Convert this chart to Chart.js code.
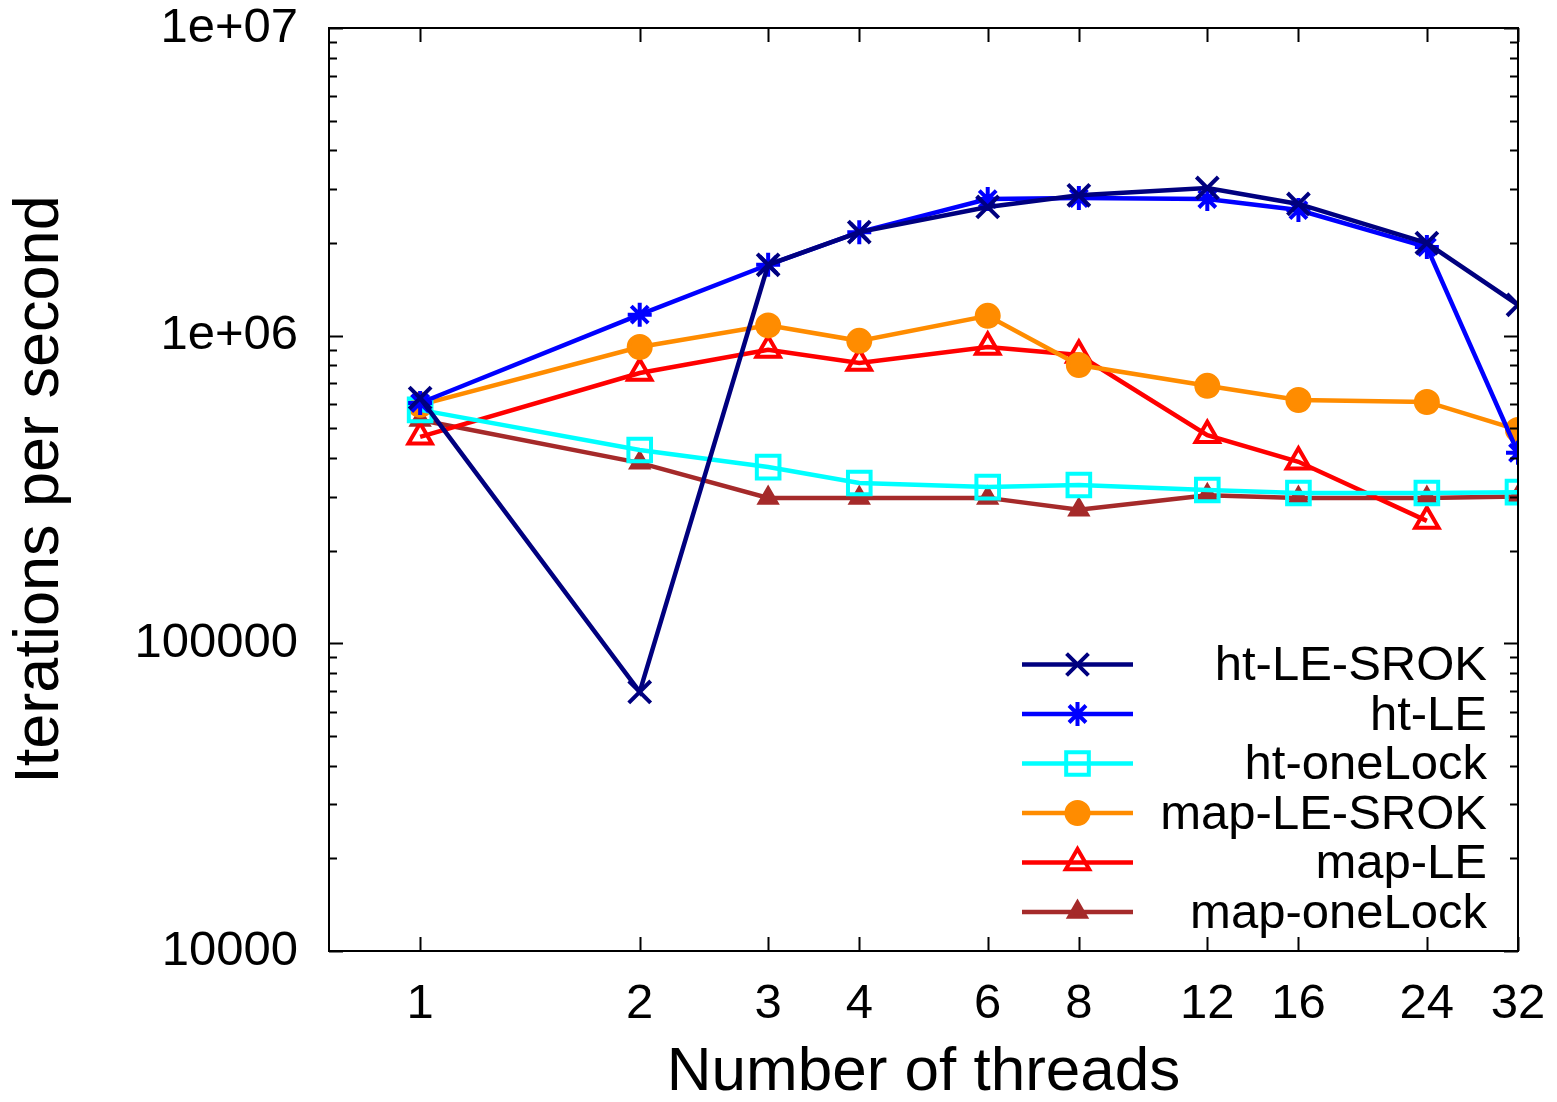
<!DOCTYPE html>
<html><head><meta charset="utf-8">
<script src="https://cdn.jsdelivr.net/npm/chart.js@4"></script>
<style>html,body{margin:0;padding:0;background:#fff}#wrap{width:1557px;height:1102px;position:relative}</style>
</head><body><div id="wrap"><canvas id="c"></canvas></div>
<script>
const threads = [1, 2, 3, 4, 6, 8, 12, 16, 24, 32];
const htLESROK = [627000, 69500, 1700000, 2170000, 2620000, 2860000, 3020000, 2680000, 2000000, 1260000];
const htLE = [604000, 1170000, 1700000, 2170000, 2780000, 2800000, 2780000, 2560000, 1940000, 416000];
const htOneLock = [574000, 425000, 374000, 332000, 322000, 327000, 315000, 308000, 308000, 310000];
const mapLESROK = [596000, 919000, 1080000, 962000, 1160000, 803000, 687000, 618000, 609000, 494000];
const mapLE = [469000, 756000, 899000, 815000, 919000, 865000, 475000, 389000, 250000, null];
const mapOneLock = [532000, 386000, 297000, 297000, 297000, 272000, 303000, 297000, 297000, 300000];
const seriesNames = ['ht-LE-SROK', 'ht-LE', 'ht-oneLock', 'map-LE-SROK', 'map-LE', 'map-oneLock'];
const yTickValues = [10000, 100000, 1000000, 10000000];
const yTickLabels = ['10000', '100000', '1e+06', '1e+07'];
const xTitle = 'Number of threads';
const yTitle = 'Iterations per second';

const FONT = "'Liberation Sans', Arial, Helvetica, sans-serif";

const styles = [
  {color:'#00007f', pointStyle:'crossRot', radius:15.5, fill:'transparent'},
  {color:'#0000ff', pointStyle:'star', radius:12, fill:'transparent'},
  {color:'#00ffff', pointStyle:'rect', radius:16, fill:'transparent'},
  {color:'#ff8c00', pointStyle:'circle', radius:11, fill:'#ff8c00'},
  {color:'#ff0000', pointStyle:'triangle', radius:13.5, fill:'transparent'},
  {color:'#a52a2a', pointStyle:'triangle', radius:9.5, fill:'#a52a2a'}
];
const seriesValues = [htLESROK, htLE, htOneLock, mapLESROK, mapLE, mapOneLock];

const datasets = seriesNames.map((name, i) => ({
  label: name,
  data: threads.map((t, j) => ({x: t, y: seriesValues[i][j]})),
  borderColor: styles[i].color,
  backgroundColor: styles[i].color,
  borderWidth: 4.5,
  pointStyle: styles[i].pointStyle,
  pointRadius: styles[i].radius,
  pointBorderWidth: 4,
  pointBorderColor: styles[i].color,
  pointBackgroundColor: styles[i].fill,
  tension: 0,
  spanGaps: false,
  fill: false
}));

const framePlugin = {
  id: 'frame',
  afterDatasetsDraw(chart) {
    const {ctx, chartArea: a, scales} = chart;
    ctx.save();
    ctx.strokeStyle = '#000';
    ctx.lineWidth = 2;
    ctx.beginPath();
    threads.forEach(t => {
      const px = Math.round(scales.x.getPixelForValue(t)) + 0.5;
      ctx.moveTo(px, a.bottom); ctx.lineTo(px, a.bottom - 14);
      ctx.moveTo(px, a.top); ctx.lineTo(px, a.top + 14);
    });
    yTickValues.forEach((d, k) => {
      const py = Math.round(scales.y.getPixelForValue(d)) + 0.5;
      ctx.moveTo(a.left, py); ctx.lineTo(a.left + 14, py);
      ctx.moveTo(a.right, py); ctx.lineTo(a.right - 14, py);
      if (k < yTickValues.length - 1) {
        for (let m = 2; m <= 9; m++) {
          const pm = Math.round(scales.y.getPixelForValue(m * d)) + 0.5;
          ctx.moveTo(a.left, pm); ctx.lineTo(a.left + 8, pm);
          ctx.moveTo(a.right, pm); ctx.lineTo(a.right - 8, pm);
        }
      }
    });
    ctx.stroke();
    ctx.strokeRect(a.left, a.top, a.right - a.left, a.bottom - a.top);
    ctx.restore();
  }
};

const legendPlugin = {
  id: 'customLegend',
  afterDraw(chart) {
    const {ctx, chartArea: a} = chart;
    ctx.save();
    const textRight = a.right - 31;
    const x1 = a.right - 496, x2 = a.right - 385, xm = (x1 + x2) / 2;
    const rowH = 49.5;
    const y0 = a.bottom - 39 - rowH * (seriesNames.length - 1);
    ctx.font = '49px ' + FONT;
    ctx.textAlign = 'right';
    ctx.textBaseline = 'middle';
    seriesNames.forEach((name, i) => {
      const y = y0 + i * rowH;
      const s = styles[i];
      ctx.strokeStyle = s.color;
      ctx.lineWidth = 4.5;
      ctx.beginPath(); ctx.moveTo(x1, y); ctx.lineTo(x2, y); ctx.stroke();
      ctx.fillStyle = s.fill;
      ctx.lineWidth = 4;
      Chart.helpers.drawPoint(ctx, {pointStyle: s.pointStyle, radius: s.radius, rotation: 0, borderWidth: 4}, xm, y);
      ctx.fillStyle = '#000';
      ctx.fillText(name, textRight, y + 2);
    });
    ctx.restore();
  }
};

new Chart(document.getElementById('c'), {
  type: 'line',
  data: {datasets},
  options: {
    responsive: true,
    maintainAspectRatio: false,
    animation: false,
    events: [],
    layout: {padding: {top: 28, right: 39, left: 0, bottom: 0}},
    plugins: {legend: {display: false}, tooltip: {enabled: false}},
    scales: {
      x: {
        type: 'logarithmic',
        position: 'bottom',
        min: 0.75,
        max: 32,
        afterBuildTicks: s => { s.ticks = threads.map(v => ({value: v})); },
        afterFit: s => { s.height = 151; s.paddingLeft = 0; s.paddingRight = 0; s.paddingTop = 0; s.paddingBottom = 0; },
        grid: {display: false, drawTicks: false},
        border: {display: false},
        ticks: {
          autoSkip: false, maxRotation: 0, minRotation: 0,
          padding: 24, color: '#000',
          font: {family: FONT, size: 49},
          callback: v => String(v)
        },
        title: {display: true, text: xTitle, color: '#000', font: {family: FONT, size: 62}, padding: {top: 0, bottom: -8}}
      },
      y: {
        type: 'logarithmic',
        position: 'left',
        min: 10000,
        max: 10000000,
        afterBuildTicks: s => { s.ticks = yTickValues.map(v => ({value: v})); },
        afterFit: s => { s.width = 329; s.paddingLeft = 0; s.paddingRight = 0; s.paddingTop = 0; s.paddingBottom = 0; },
        grid: {display: false, drawTicks: false},
        border: {display: false},
        ticks: {
          autoSkip: false, padding: 31, color: '#000',
          font: {family: FONT, size: 49},
          callback: v => { const k = yTickValues.indexOf(v); return k >= 0 ? yTickLabels[k] : ''; }
        },
        title: {display: true, text: yTitle, color: '#000', font: {family: FONT, size: 63}, padding: {top: 3, bottom: 0}}
      }
    }
  },
  plugins: [framePlugin, legendPlugin]
});
</script></body></html>
